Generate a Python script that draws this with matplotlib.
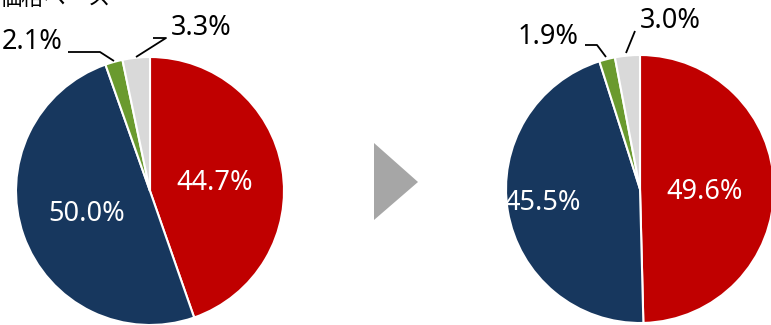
import matplotlib
matplotlib.use("Agg")
import matplotlib.pyplot as plt
from matplotlib.patches import Polygon

plt.rcParams["font.family"] = ["Noto Sans", "Noto Sans CJK JP", "DejaVu Sans"]

# share before / after (clockwise from 12 o'clock)
segments = ["red", "navy", "green", "gray"]
before = [44.7, 50.0, 2.1, 3.3]
after = [49.6, 45.5, 1.9, 3.0]
title = "価格ベース"

COLORS = ["#C00000", "#17375E", "#6A9A2E", "#D9D9D9"]
W, H = 771, 325


def yy(y):
    # pixel row (top down) -> axis y (bottom up)
    return H - y


fig = plt.figure(figsize=(W / 100, H / 100), dpi=100)
ax = fig.add_axes([0, 0, 1, 1])
ax.set_xlim(0, W)
ax.set_ylim(0, H)
ax.set_aspect("equal")
ax.axis("off")


def draw_pie(vals, cx, cy, r, inner_pos, outer):
    ax.pie(vals, colors=COLORS, startangle=90, counterclock=False,
           center=(cx, yy(cy)), radius=r, frame=True,
           wedgeprops=dict(edgecolor="white", linewidth=1.5))
    for v, (x, y) in zip(vals[:2], inner_pos):
        ax.text(x, yy(y), f"{v:.1f}%", color="white", fontsize=19.5,
                ha="center", va="center")
    for v, (tx, ty, line) in zip(vals[2:], outer):
        ax.text(tx, yy(ty), f"{v:.1f}%", color="black", fontsize=19.5,
                ha="center", va="center")
        ax.plot([p[0] for p in line], [yy(p[1]) for p in line],
                color="black", lw=1.3, solid_capstyle="butt")


draw_pie(before, 150, 191, 134,
         [(215, 183), (87, 214)],
         [(32, 42, [(68, 52), (100, 52), (114, 61)]),
          (201, 28, [(153, 38), (166, 38), (136, 57)])])

draw_pie(after, 640, 189, 134,
         [(705, 192), (543, 203)],
         [(548, 37, [(585, 45), (597, 45), (606, 57)]),
          (670, 21, [(635, 31), (626, 53)])])

ax.set_xlim(0, W)
ax.set_ylim(0, H)
ax.axis("off")

# arrow between the two pies
ax.add_patch(Polygon([(374, yy(143)), (374, yy(220)), (418, yy(182))],
                     closed=True, color="#A6A6A6", lw=0))

# heading, mostly above the top edge
ax.text(0, yy(5), title, fontsize=16, color="black", ha="left",
        va="baseline", family=["Noto Sans CJK JP"])

fig.savefig("out.png", dpi=100)
